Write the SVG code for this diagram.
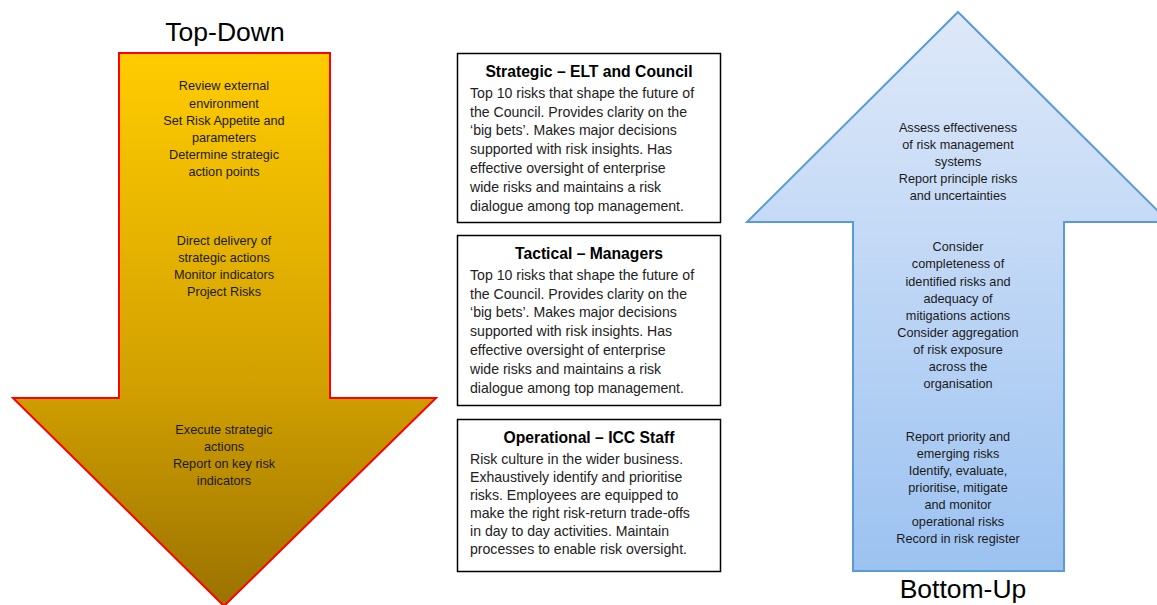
<svg xmlns="http://www.w3.org/2000/svg" width="1157" height="605" viewBox="0 0 1157 605">
<defs>
<linearGradient id="gDown" x1="0" y1="0" x2="0" y2="1">
<stop offset="0" stop-color="#FFCC00"/>
<stop offset="0.6" stop-color="#D2A000"/>
<stop offset="1" stop-color="#9A7200"/>
</linearGradient>
<linearGradient id="gUp" x1="0" y1="0" x2="0" y2="1">
<stop offset="0" stop-color="#DEE9F9"/>
<stop offset="1" stop-color="#9CC2F1"/>
</linearGradient>
<style>
.ttl{font-family:"Liberation Sans",Arial,sans-serif;font-size:26.5px;fill:#000;text-anchor:middle}
.at{font-family:"Liberation Sans",Arial,sans-serif;font-size:12.7px;fill:#1a1a1a;text-anchor:middle}
.box{fill:#fff;stroke:#000;stroke-width:1.5}
.bt{font-family:"Liberation Sans",Arial,sans-serif;font-size:15.7px;font-weight:bold;fill:#000;text-anchor:middle}
.bb{font-family:"Liberation Sans",Arial,sans-serif;font-size:14.1px;fill:#222}
</style>
</defs>
<rect width="1157" height="605" fill="#fff"/>

<g id="top-down">
<text class="ttl" x="225" y="41">Top-Down</text>
<path d="M119,53 L330,53 L330,398 L436,398 L224,606 L13,398 L119,398 Z" fill="url(#gDown)" stroke="#FF0000" stroke-width="2"/>
<text class="at" x="224" y="90">Review external</text>
<text class="at" x="224" y="107.5">environment</text>
<text class="at" x="224" y="124.5">Set Risk Appetite and</text>
<text class="at" x="224" y="141.5">parameters</text>
<text class="at" x="224" y="158.5">Determine strategic</text>
<text class="at" x="224" y="176">action points</text>
<text class="at" x="224" y="244.5">Direct delivery of</text>
<text class="at" x="224" y="261.5">strategic actions</text>
<text class="at" x="224" y="279">Monitor indicators</text>
<text class="at" x="224" y="296">Project Risks</text>
<text class="at" x="224" y="433.5">Execute strategic</text>
<text class="at" x="224" y="450.5">actions</text>
<text class="at" x="224" y="467.5">Report on key risk</text>
<text class="at" x="224" y="484.5">indicators</text>
</g>

<g id="bottom-up">
<path d="M958,12 L1169,222 L1064,222 L1064,571 L853,571 L853,222 L747,222 Z" fill="url(#gUp)" stroke="#5B9BD5" stroke-width="2"/>
<text class="at" x="958" y="131.5">Assess effectiveness</text>
<text class="at" x="958" y="148.5">of risk management</text>
<text class="at" x="958" y="165.5">systems</text>
<text class="at" x="958" y="182.5">Report principle risks</text>
<text class="at" x="958" y="199.5">and uncertainties</text>
<text class="at" x="958" y="251">Consider</text>
<text class="at" x="958" y="268">completeness of</text>
<text class="at" x="958" y="285.5">identified risks and</text>
<text class="at" x="958" y="302.5">adequacy of</text>
<text class="at" x="958" y="319.5">mitigations actions</text>
<text class="at" x="958" y="337">Consider aggregation</text>
<text class="at" x="958" y="354">of risk exposure</text>
<text class="at" x="958" y="371">across the</text>
<text class="at" x="958" y="388">organisation</text>
<text class="at" x="958" y="440.5">Report priority and</text>
<text class="at" x="958" y="457.5">emerging risks</text>
<text class="at" x="958" y="474.5">Identify, evaluate,</text>
<text class="at" x="958" y="491.5">prioritise, mitigate</text>
<text class="at" x="958" y="508.5">and monitor</text>
<text class="at" x="958" y="525.5">operational risks</text>
<text class="at" x="958" y="543">Record in risk register</text>
<text class="ttl" x="963" y="598">Bottom-Up</text>
</g>

<g id="strategic">
<rect class="box" x="457.5" y="53.5" width="263" height="169"/>
<text class="bt" x="589" y="77">Strategic – ELT and Council</text>
<text class="bb" x="470" y="98">Top 10 risks that shape the future of</text>
<text class="bb" x="470" y="117">the Council. Provides clarity on the</text>
<text class="bb" x="470" y="135">‘big bets’. Makes major decisions</text>
<text class="bb" x="470" y="154">supported with risk insights. Has</text>
<text class="bb" x="470" y="173">effective oversight of enterprise</text>
<text class="bb" x="470" y="192">wide risks and maintains a risk</text>
<text class="bb" x="470" y="211">dialogue among top management.</text>
</g>

<g id="tactical">
<rect class="box" x="457.5" y="235.5" width="263" height="170"/>
<text class="bt" x="589" y="259">Tactical – Managers</text>
<text class="bb" x="470" y="280">Top 10 risks that shape the future of</text>
<text class="bb" x="470" y="299">the Council. Provides clarity on the</text>
<text class="bb" x="470" y="317">‘big bets’. Makes major decisions</text>
<text class="bb" x="470" y="336">supported with risk insights. Has</text>
<text class="bb" x="470" y="355">effective oversight of enterprise</text>
<text class="bb" x="470" y="374">wide risks and maintains a risk</text>
<text class="bb" x="470" y="393">dialogue among top management.</text>
</g>

<g id="operational">
<rect class="box" x="457.5" y="419.5" width="263" height="152"/>
<text class="bt" x="589" y="443">Operational – ICC Staff</text>
<text class="bb" x="470" y="464">Risk culture in the wider business.</text>
<text class="bb" x="470" y="482">Exhaustively identify and prioritise</text>
<text class="bb" x="470" y="500">risks. Employees are equipped to</text>
<text class="bb" x="470" y="518">make the right risk-return trade-offs</text>
<text class="bb" x="470" y="536">in day to day activities. Maintain</text>
<text class="bb" x="470" y="554">processes to enable risk oversight.</text>
</g>

<g id="connectors"/>
</svg>
